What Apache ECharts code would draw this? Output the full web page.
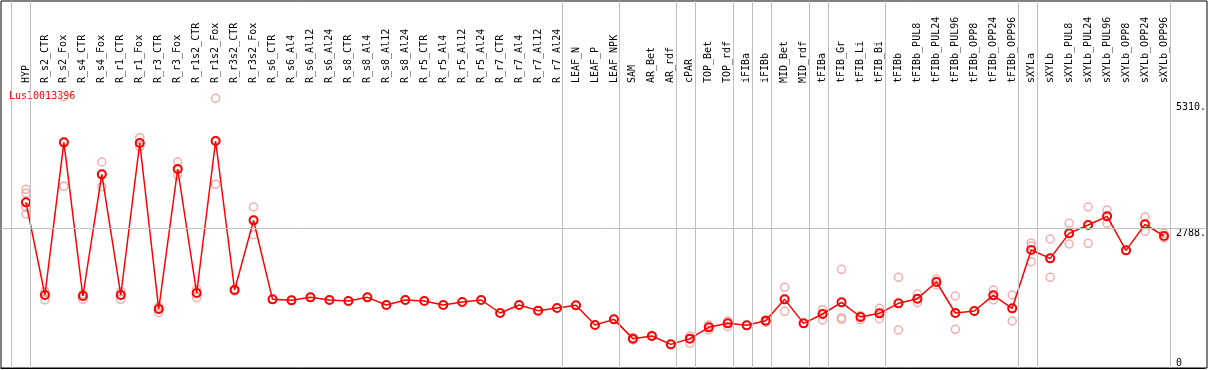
<!DOCTYPE html>
<html>
<head>
<meta charset="utf-8">
<title>Lus10013396</title>
<script src="https://cdn.jsdelivr.net/npm/echarts@6/dist/echarts.min.js"></script>
<style>
  html, body { margin: 0; padding: 0; background: #fff; }
  #chart { width: 1209px; height: 370px; }
</style>
</head>
<body>
<div id="chart"></div>
<script>
// 样本名称
const categories = [
  "HYP", "R_s2_CTR", "R_s2_Fox", "R_s4_CTR", "R_s4_Fox", "R_r1_CTR", "R_r1_Fox",
  "R_r3_CTR", "R_r3_Fox", "R_r1s2_CTR", "R_r1s2_Fox", "R_r3s2_CTR", "R_r3s2_Fox",
  "R_s6_CTR", "R_s6_Al4", "R_s6_Al12", "R_s6_Al24", "R_s8_CTR", "R_s8_Al4",
  "R_s8_Al12", "R_s8_Al24", "R_r5_CTR", "R_r5_Al4", "R_r5_Al12", "R_r5_Al24",
  "R_r7_CTR", "R_r7_Al4", "R_r7_Al12", "R_r7_Al24", "LEAF_N", "LEAF_P", "LEAF_NPK",
  "SAM", "AR_Bet", "AR_rdf", "cPAR", "TOP_Bet", "TOP_rdf", "iFIBa", "iFIBb",
  "MID_Bet", "MID_rdf", "tFIBa", "tFIB_Gr", "tFIB_Li", "tFIB_Bi", "tFIBb",
  "tFIBb_PUL8", "tFIBb_PUL24", "tFIBb_PUL96", "tFIBb_OPP8", "tFIBb_OPP24", "tFIBb_OPP96",
  "sXYLa", "sXYLb", "sXYLb_PUL8", "sXYLb_PUL24", "sXYLb_PUL96", "sXYLb_OPP8",
  "sXYLb_OPP24", "sXYLb_OPP96"
];

// 平均值
const meanValues = [
  3313, 1460, 4513, 1440, 3873, 1460, 4500, 1180, 3980, 1500, 4540, 1560, 2953,
  1373, 1353, 1413, 1360, 1340, 1413, 1260, 1360, 1340, 1260, 1320, 1360,
  1100, 1260, 1147, 1200, 1253, 860, 973,
  587, 640, 473, 587, 813, 893, 853, 947, 1373, 893, 1080, 1313, 1020, 1093, 1293,
  1387, 1720, 1100, 1140, 1453, 1193,
  2360, 2193, 2693, 2860, 3033, 2353, 2873, 2640
];

// 重复样本
const replicateValues = [
  [3573, 3493, 3213, 3080], [1527, 1460, 1360], [5427, 4513, 3633], [1480, 1440, 1373],
  [4120, 3873, 3627], [1527, 1460, 1373], [4607, 4500, 4427], [1227, 1180, 1107],
  [4120, 3980, 3860], [1573, 1500, 1407], [5393, 4550, 3673], [1573, 1560, 1540],
  [3220, 2953, 2667],
  [1373], [1353], [1413], [1360], [1340], [1413], [1260], [1360], [1340], [1260],
  [1320], [1360], [1100], [1260], [1147], [1200], [1253], [860], [973],
  [610, 587, 560], [650, 640, 630], [473], [640, 587, 493], [860, 813, 760],
  [940, 893, 827], [853], [960, 947, 913], [1613, 1373, 1133], [893],
  [1167, 1080, 960], [1973, 1007, 973], [1047, 1020, 967], [1193, 1093, 987],
  [1813, 1293, 760], [1480, 1387, 1307], [1773, 1720, 1660], [1440, 1100, 773],
  [1140], [1560, 1453, 1360], [1460, 1193, 940],
  [2500, 2440, 2127], [2580, 2193, 1813], [2893, 2693, 2480], [3220, 2860, 2493],
  [3160, 3033, 2893], [2353], [3020, 2873, 2733], [2693, 2640, 2600]
];

// 分组：每组最后一个样本的序号（-1 为左边界）
const groupEnds = [-1, 0, 28, 31, 34, 35, 37, 38, 39, 41, 42, 45, 52, 53, 60];

// 纵轴刻度
const yTickValues = [0, 2788, 5310];
const yTickLabels = ["0", "2788.", "5310."];
const refLineValue = 2788;

const geneName = "Lus10013396";

const monoFont = "DejaVu Sans Mono";
const xMin = -25 / 19;
const xMax = xMin + 1206 / 19;
const groupLineOffset = 4.5 / 19; // 分组线画在样本右侧一点

function initChart() {
  const chart = echarts.init(document.getElementById("chart"), null, { renderer: "canvas" });

  const meanData = meanValues.map((v, i) => [i, v]);
  const repData = [];
  replicateValues.forEach((reps, i) => {
    reps.forEach(v => repData.push([i, v]));
  });
  // 分组线：从顶到底
  const groupLines = groupEnds.map(g => [
    { coord: [g + groupLineOffset, 0] },
    { coord: [g + groupLineOffset, 1] }
  ]);

  chart.setOption({
    animation: false,
    backgroundColor: "#fff",
    title: {
      text: geneName,
      left: 9,
      top: 91,
      padding: 0,
      textStyle: {
        color: "#ff0000",
        fontSize: 10,
        fontWeight: "normal",
        fontFamily: monoFont
      },
      z: 1
    },
    grid: [
      // 外框 + 分组线
      { left: 1, right: 2, top: 1, bottom: 2, show: true, borderColor: "#000", borderWidth: 1, backgroundColor: "transparent" },
      // 作图区
      { left: 1, right: 2, top: 85, bottom: 2 }
    ],
    xAxis: [
      {
        gridIndex: 0,
        type: "value",
        min: xMin,
        max: xMax,
        show: false
      },
      {
        gridIndex: 1,
        type: "value",
        position: "top",
        min: xMin,
        max: xMax,
        axisLine: { show: true, lineStyle: { color: "#000", width: 1 } },
        axisTick: { show: false },
        splitLine: { show: false },
        axisLabel: {
          customValues: categories.map((c, i) => i),
          formatter: v => categories[Math.round(v)] || "",
          rotate: 90,
          margin: 2,
          color: "#000",
          fontSize: 10,
          fontFamily: monoFont,
          hideOverlap: false
        }
      }
    ],
    yAxis: [
      {
        gridIndex: 0,
        type: "value",
        min: 0,
        max: 1,
        show: false
      },
      {
        gridIndex: 1,
        type: "value",
        position: "right",
        min: 0,
        max: 5660,
        axisLine: { show: false },
        axisTick: { show: false },
        splitLine: { show: false },
        axisLabel: {
          inside: true,
          customValues: yTickValues,
          align: "left",
          margin: 29,
          formatter: v => {
            const label = yTickLabels[yTickValues.indexOf(v)];
            return v === 0 ? "{z|" + label + "}" : "{t|" + label + "}";
          },
          rich: {
            t: { padding: [10, 0, 0, 0], fontSize: 10, fontFamily: monoFont, color: "#000", backgroundColor: "#fff" },
            z: { padding: [0, 0, 10, 0], fontSize: 10, fontFamily: monoFont, color: "#000" }
          }
        }
      }
    ],
    series: [
      {
        name: "groups",
        type: "scatter",
        xAxisIndex: 0,
        yAxisIndex: 0,
        data: [],
        silent: true,
        markLine: {
          silent: true,
          symbol: "none",
          label: { show: false },
          lineStyle: { color: "#c0c0c0", width: 1, type: "solid" },
          data: groupLines
        }
      },
      {
        name: "replicates",
        type: "scatter",
        xAxisIndex: 1,
        yAxisIndex: 1,
        data: repData,
        symbol: "circle",
        symbolSize: 8,
        itemStyle: { color: "transparent", borderColor: "#ee9a9a", borderWidth: 1.5 },
        z: 2
      },
      {
        name: "mean",
        type: "line",
        xAxisIndex: 1,
        yAxisIndex: 1,
        data: meanData,
        symbol: "circle",
        symbolSize: 8,
        showAllSymbol: true,
        lineStyle: { color: "#ff0000", width: 1.5 },
        itemStyle: { color: "transparent", borderColor: "#ff0000", borderWidth: 2 },
        z: 3,
        markLine: {
          silent: true,
          symbol: "none",
          label: { show: false },
          lineStyle: { color: "#c0c0c0", width: 1, type: "solid" },
          data: [{ yAxis: refLineValue }]
        }
      }
    ]
  });
  return chart;
}

initChart();
</script>
</body>
</html>
